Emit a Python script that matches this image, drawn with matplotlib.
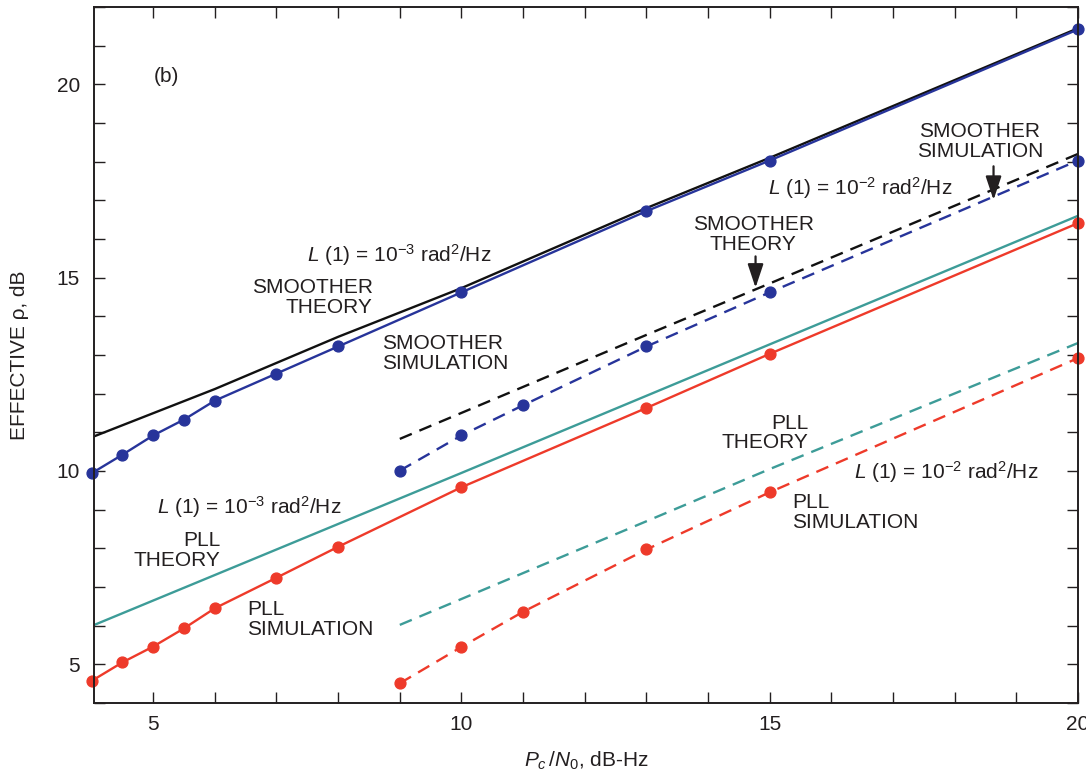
import matplotlib
matplotlib.use("Agg")
import matplotlib.pyplot as plt
from matplotlib.ticker import MultipleLocator

plt.rcParams.update({
    "font.family": ["Liberation Sans", "DejaVu Sans"],
    "font.size": 15,
    "text.color": "#231f20",
    "axes.labelcolor": "#231f20",
    "xtick.color": "#231f20",
    "ytick.color": "#231f20",
    "mathtext.fontset": "custom",
    "mathtext.rm": "Liberation Sans",
    "mathtext.it": "Liberation Sans:italic",
    "mathtext.bf": "Liberation Sans:bold",
})

# ---- data ----
x_sim_3 = [4, 4.5, 5, 5.5, 6, 7, 8, 10, 13, 15, 20]
smoother_sim_3 = [9.94, 10.42, 10.92, 11.33, 11.82, 12.52, 13.22, 14.62, 16.72, 18.03, 21.42]
pll_sim_3 = [4.57, 5.05, 5.46, 5.93, 6.45, 7.24, 8.04, 9.58, 11.63, 13.03, 16.41]

x_smoother_theory_3 = [4, 6, 8, 10, 13, 15, 20]
smoother_theory_3 = [10.87, 12.12, 13.47, 14.73, 16.80, 18.10, 21.45]

x_pll_theory_3 = [4, 10, 20]
pll_theory_3 = [5.99, 9.95, 16.60]

x_sim_2 = [9, 10, 11, 13, 15, 20]
smoother_sim_2 = [10.01, 10.92, 11.70, 13.22, 14.62, 18.03]
pll_sim_2 = [4.51, 5.45, 6.36, 7.97, 9.45, 12.92]

x_theory_2 = [9, 13, 15, 20]
smoother_theory_2 = [10.83, 13.52, 14.85, 18.20]
pll_theory_2 = [6.02, 8.70, 10.05, 13.31]

BLUE = "#27349a"
RED = "#ee3a2a"
TEAL = "#3d9c98"
BLACK = "#111111"

fig = plt.figure(figsize=(10.86, 7.83), dpi=100)
ax = fig.add_axes([94 / 1086, 1 - 703 / 783, (1078 - 94) / 1086, (703 - 7) / 783])

lw = 1.7
dash = (5.5, 3.5)
mk = dict(marker="o", markersize=7.8, clip_on=False)

# theory curves
ax.plot(x_smoother_theory_3, smoother_theory_3, color=BLACK, lw=lw)
ax.plot(x_pll_theory_3, pll_theory_3, color=TEAL, lw=lw)
ax.plot(x_theory_2, smoother_theory_2, color=BLACK, lw=lw, dashes=dash)
ax.plot(x_theory_2, pll_theory_2, color=TEAL, lw=lw, dashes=dash)

# simulation curves
ax.plot(x_sim_3, smoother_sim_3, color=BLUE, lw=lw, **mk)
ax.plot(x_sim_3, pll_sim_3, color=RED, lw=lw, **mk)
ax.plot(x_sim_2, smoother_sim_2, color=BLUE, lw=lw, dashes=dash, **mk)
ax.plot(x_sim_2, pll_sim_2, color=RED, lw=lw, dashes=dash, **mk)

ax.set_xlim(4.04, 20.0)
ax.set_ylim(4.0, 22.0)

ax.xaxis.set_major_locator(MultipleLocator(5))
ax.xaxis.set_minor_locator(MultipleLocator(1))
ax.yaxis.set_major_locator(MultipleLocator(5))
ax.yaxis.set_minor_locator(MultipleLocator(1))
ax.tick_params(which="both", direction="in", top=True, right=True,
               length=8, width=1.0)
ax.tick_params(axis="x", which="major", pad=9)
ax.tick_params(axis="y", which="major", pad=10)
for s in ax.spines.values():
    s.set_linewidth(1.4)
    s.set_color("#231f20")

ax.set_xlabel(r"$P_c\,/N_0$, dB-Hz", labelpad=11)
ax.set_ylabel("EFFECTIVE \u03c1, dB", labelpad=20)

# ---- annotations ----
ls = 1.05
arrow = dict(arrowstyle="-|>,head_width=0.3,head_length=0.9", color="#231f20",
             lw=1.6, mutation_scale=16, shrinkA=0, shrinkB=0)

ax.text(5.22, 20.2, "(b)", ha="center", va="center")
ax.text(7.5, 15.59, r"$L$ (1) = 10$^{-3}$ rad$^2$/Hz", ha="left", va="center")
ax.text(8.56, 14.49, "SMOOTHER\nTHEORY", ha="right", va="center",
        multialignment="right", linespacing=ls)
ax.text(8.71, 13.03, "SMOOTHER\nSIMULATION", ha="left", va="center",
        multialignment="left", linespacing=ls)
ax.text(14.73, 16.11, "SMOOTHER\nTHEORY", ha="center", va="center",
        multialignment="center", linespacing=ls)
ax.annotate("", xy=(14.77, 14.74), xytext=(14.77, 15.55), arrowprops=arrow)
ax.text(14.98, 17.32, r"$L$ (1) = 10$^{-2}$ rad$^2$/Hz", ha="left", va="center")
ax.text(18.41, 18.52, "SMOOTHER\nSIMULATION", ha="center", va="center",
        multialignment="center", linespacing=ls)
ax.annotate("", xy=(18.63, 17.01), xytext=(18.63, 17.88), arrowprops=arrow)
ax.text(5.06, 9.06, r"$L$ (1) = 10$^{-3}$ rad$^2$/Hz", ha="left", va="center")
ax.text(6.09, 7.95, "PLL\nTHEORY", ha="right", va="center",
        multialignment="right", linespacing=ls)
ax.text(6.52, 6.16, "PLL\nSIMULATION", ha="left", va="center",
        multialignment="left", linespacing=ls)
ax.text(15.63, 10.98, "PLL\nTHEORY", ha="right", va="center",
        multialignment="right", linespacing=ls)
ax.text(16.36, 9.96, r"$L$ (1) = 10$^{-2}$ rad$^2$/Hz", ha="left", va="center")
ax.text(15.37, 8.93, "PLL\nSIMULATION", ha="left", va="center",
        multialignment="left", linespacing=ls)

fig.savefig("out.png", dpi=100)
